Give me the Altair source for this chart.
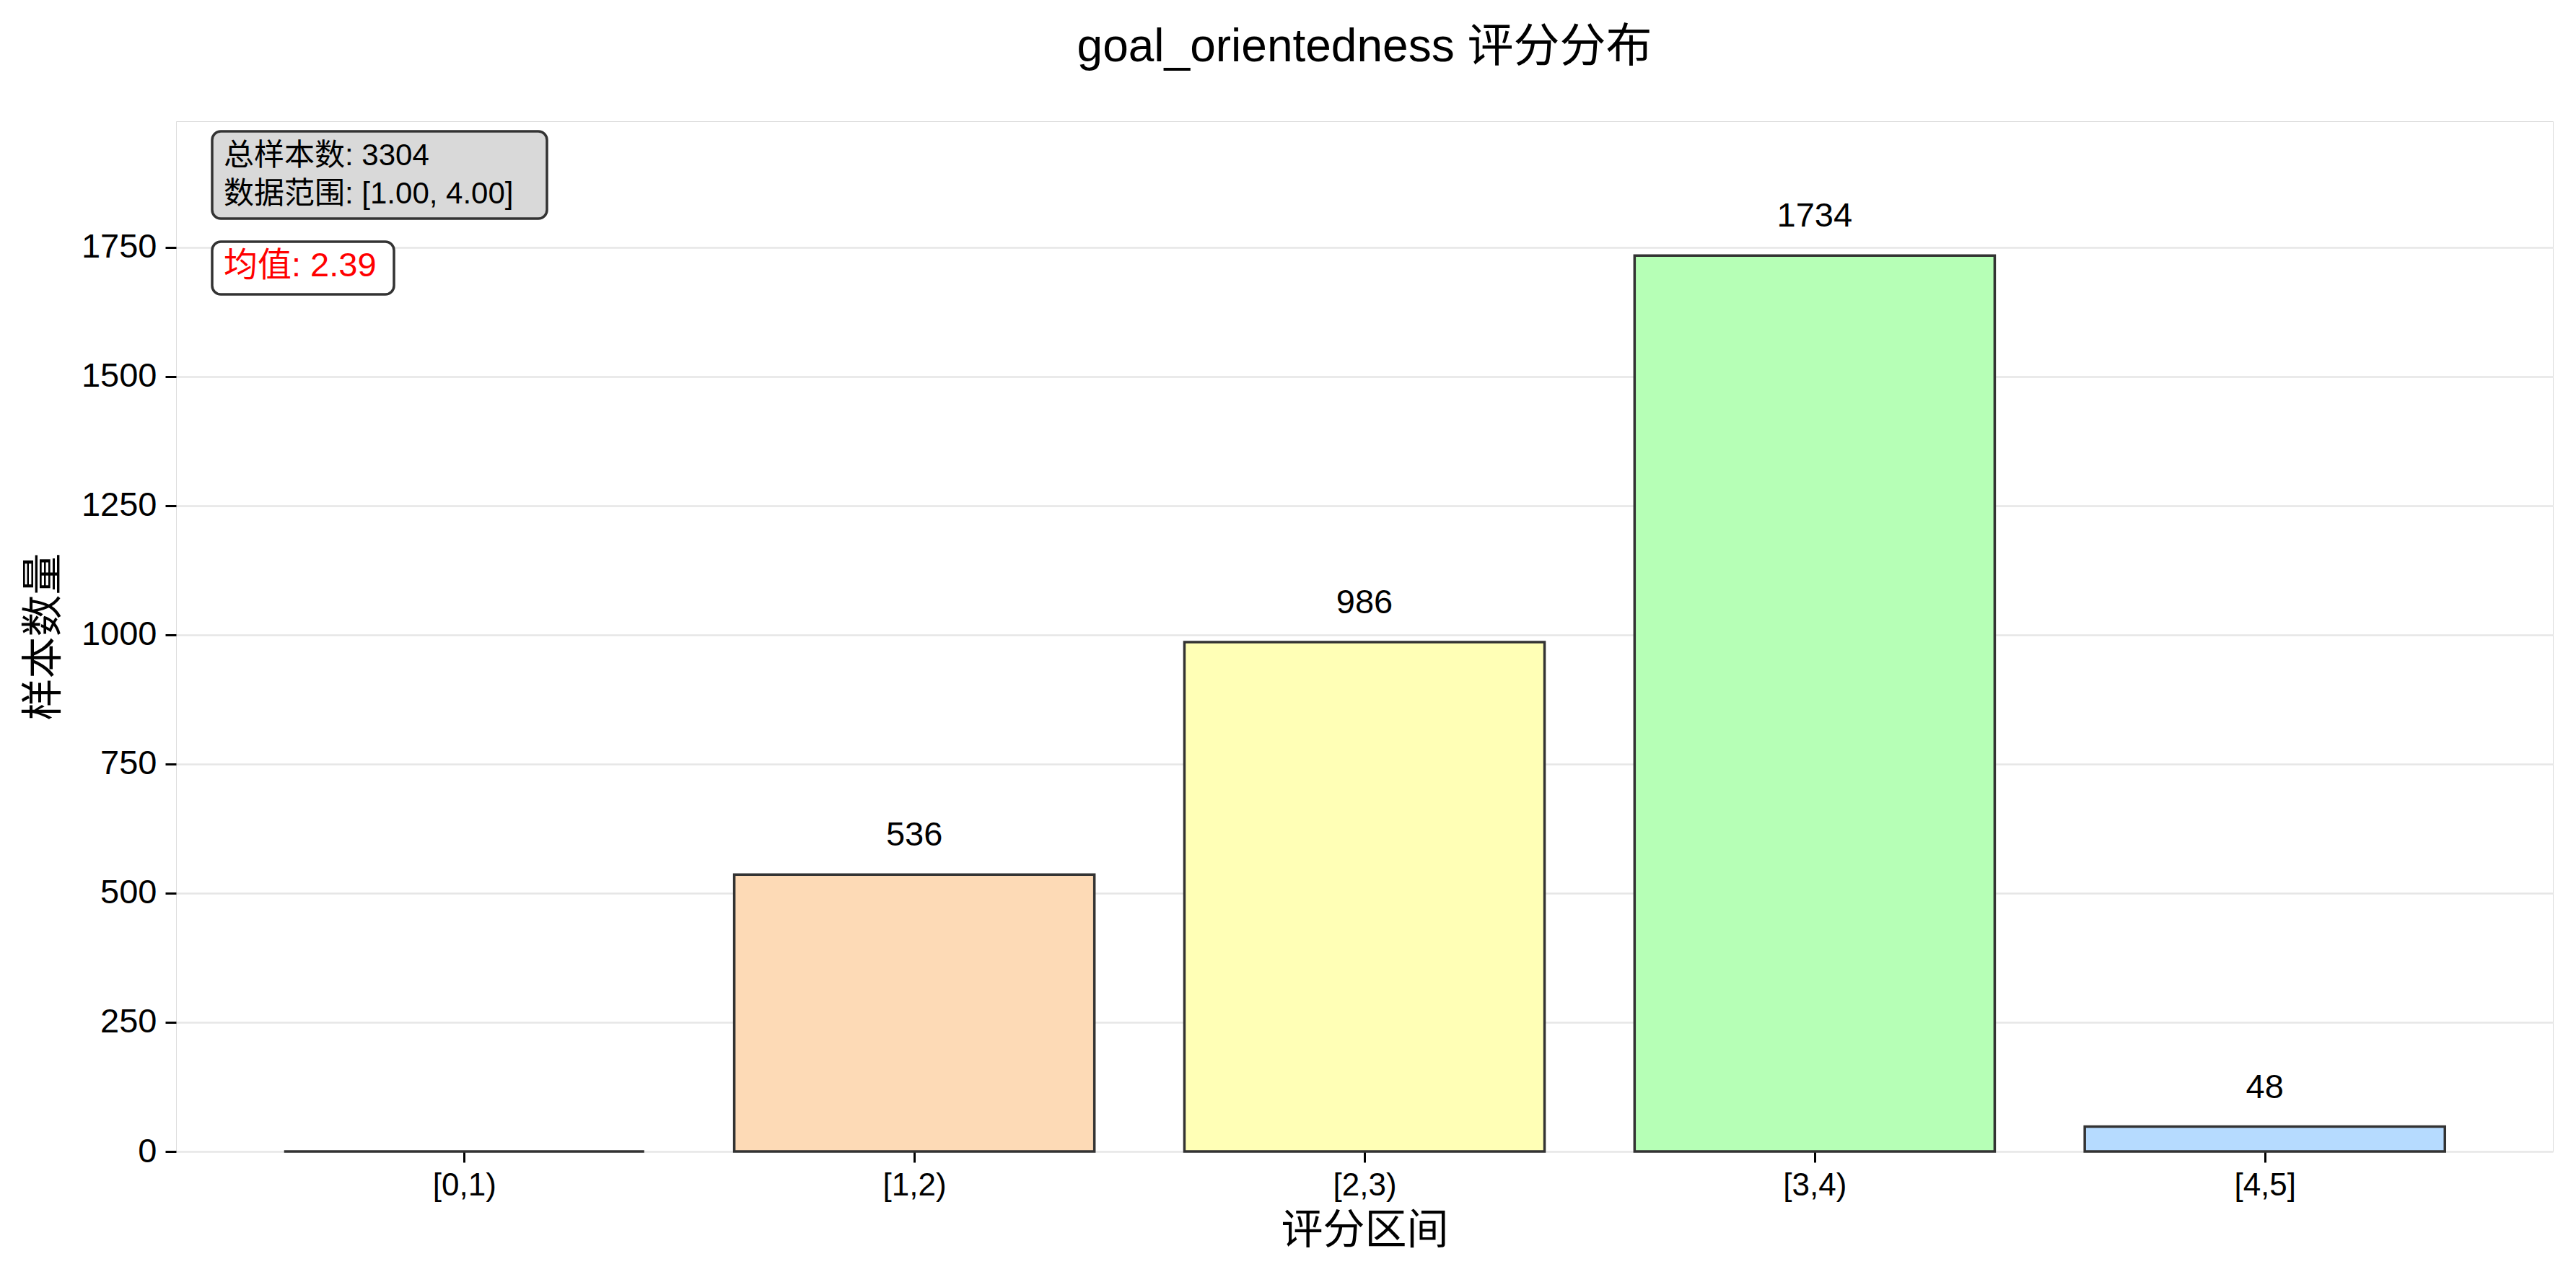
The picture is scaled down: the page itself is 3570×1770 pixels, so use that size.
import altair as alt
import pandas as pd

categories = ["[0,1)", "[1,2)", "[2,3)", "[3,4)", "[4,5]"]
counts = [0, 536, 986, 1734, 48]
colors = ["#FFB6B6", "#FDDAB6", "#FFFFB6", "#B6FFB6", "#B6DBFF"]
stats_lines = ["总样本数: 3304", "数据范围: [1.00, 4.00]"]
mean_text = "均值: 2.39"
y_ticks = [0, 250, 500, 750, 1000, 1250, 1500, 1750]

FONT = "Liberation Sans, Arial, Noto Sans CJK SC, sans-serif"

df = pd.DataFrame({"cat": categories, "count": counts, "color": colors})
df["i"] = range(len(df))
df["x0"] = df["i"] - 0.4
df["x1"] = df["i"] + 0.4
df["zero"] = 0

label_expr = "[" + ",".join(f"'{c}'" for c in categories) + "][datum.value]"

xscale = alt.Scale(domain=[-0.64, 4.64], nice=False, zero=False)
yscale = alt.Scale(domain=[0, 1994], nice=False)

base = alt.Chart(df)

bars = base.mark_rect(stroke="#333333", strokeWidth=3.5).encode(
    x=alt.X("x0:Q", scale=xscale, title="评分区间",
            axis=alt.Axis(values=list(range(len(categories))), labelExpr=label_expr,
                          grid=False, labelFontSize=44, titleFontSize=58,
                          labelFont=FONT, titleFont=FONT, titleFontWeight="normal",
                          tickSize=15, tickWidth=3, domain=False, labelPadding=10,
                          titlePadding=12, labelColor="black", titleColor="black",
                          tickColor="black")),
    x2="x1:Q",
    y=alt.Y("count:Q", scale=yscale, title="样本数量",
            axis=alt.Axis(values=y_ticks, format="d", grid=True, gridColor="#e6e6e6",
                          gridWidth=2.5, labelFontSize=47, titleFontSize=58,
                          labelFont=FONT, titleFont=FONT, titleFontWeight="normal",
                          tickSize=15, tickWidth=3, domain=False, labelPadding=12,
                          titlePadding=22, labelColor="black", titleColor="black",
                          tickColor="black")),
    y2="zero:Q",
    fill=alt.Color("color:N", scale=None),
)

labels = base.transform_filter("datum.count > 0").mark_text(
    baseline="bottom", dy=-30, fontSize=47, font=FONT, color="black").encode(
    x=alt.X("i:Q", scale=xscale),
    y=alt.Y("count:Q", scale=yscale),
    text="count:Q",
)

box_df = pd.DataFrame({"k": [0]})
box1 = alt.Chart(box_df).mark_rect(fill="#d9d9d9", stroke="#333333", strokeWidth=3.5,
                                    cornerRadius=12).encode(
    x=alt.value(50), x2=alt.value(514), y=alt.value(14), y2=alt.value(135))
box2 = alt.Chart(box_df).mark_rect(fill="white", stroke="#333333", strokeWidth=3.5,
                                    cornerRadius=12).encode(
    x=alt.value(50), x2=alt.value(302), y=alt.value(167), y2=alt.value(240))

t_df = pd.DataFrame({"t": stats_lines, "yy": [48, 101]})
stats = alt.Chart(t_df).mark_text(align="left", baseline="middle", fontSize=42,
                                  font=FONT, color="black").encode(
    x=alt.value(66), y=alt.Y("yy:Q", scale=None), text="t:N")
mean = alt.Chart(pd.DataFrame({"t": [mean_text]})).mark_text(
    align="left", baseline="middle", fontSize=47, font=FONT, color="red").encode(
    x=alt.value(66), y=alt.value(201), text="t:N")

chart = alt.layer(bars, labels, box1, box2, stats, mean).properties(
    width=3294, height=1428,
    autosize=alt.AutoSizeParams(type="none"),
    padding={"left": 236, "top": 160, "right": 24, "bottom": 160},
    title=alt.Title("goal_orientedness 评分分布", fontSize=64, font=FONT,
                    fontWeight="normal", offset=70, color="black"),
).configure_view(stroke="#000000", strokeWidth=3, strokeOpacity=1).configure(background="white")

chart.save("out.html", embed_options={"renderer": "svg", "actions": False})
